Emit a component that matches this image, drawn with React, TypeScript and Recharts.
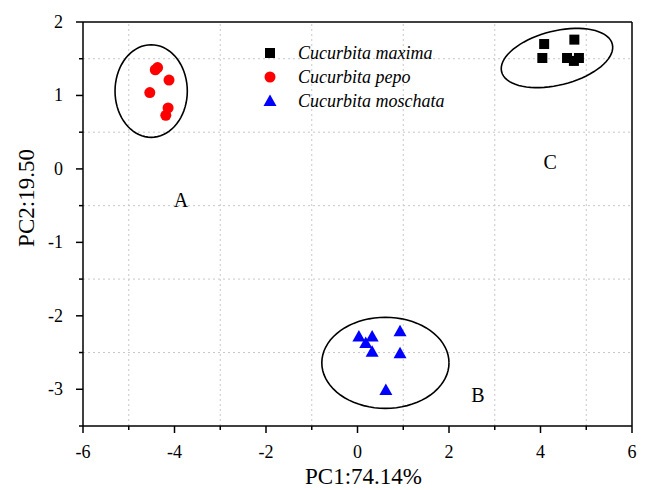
import React from 'react';
import { ScatterChart, Scatter, XAxis, YAxis, ReferenceLine } from 'recharts';

// PCA scores
const maximaPts = [
    { x: 4.08, y: 1.70 },
    { x: 4.74, y: 1.76 },
    { x: 4.04, y: 1.51 },
    { x: 4.58, y: 1.51 },
    { x: 4.73, y: 1.47 },
    { x: 4.84, y: 1.51 },
];
const pepoPts = [
    { x: -4.42, y: 1.35 },
    { x: -4.37, y: 1.38 },
    { x: -4.12, y: 1.21 },
    { x: -4.54, y: 1.04 },
    { x: -4.14, y: 0.83 },
    { x: -4.19, y: 0.73 },
];
const moschataPts = [
    { x: 0.03, y: -2.28 },
    { x: 0.32, y: -2.28 },
    { x: 0.18, y: -2.37 },
    { x: 0.32, y: -2.49 },
    { x: 0.93, y: -2.21 },
    { x: 0.93, y: -2.51 },
    { x: 0.62, y: -3.01 },
];

// group ellipses: centre + two semi-axis vectors (data units)
const ellipseA = { cx: -4.51, cy: 1.06, ax: 0.79, ay: 0, bx: 0, by: 0.63 };
const ellipseB = { cx: 0.61, cy: -2.64, ax: 1.39, ay: 0, bx: 0, by: 0.62 };
const ellipseC = { cx: 4.36, cy: 1.51, ax: 1.21, ay: 0.188, bx: 0.142, by: -0.357 };

const groupLabels = [
    { x: -3.86, y: -0.42, text: 'A' },
    { x: 2.63, y: -3.08, text: 'B' },
    { x: 4.21, y: 0.09, text: 'C' },
];

const xTicks = [-6, -5, -4, -3, -2, -1, 0, 1, 2, 3, 4, 5, 6];
const yTicks = [-3.5, -3, -2.5, -2, -1.5, -1, -0.5, 0, 0.5, 1, 1.5, 2];
const xGrid = [-5, -3, -1, 1, 3, 5];
const yGrid = [1.5, 0.5, -0.5, -1.5, -2.5];

const seriesNames = ['Cucurbita maxima', 'Cucurbita pepo', 'Cucurbita moschata'];

const FONT = '"Liberation Serif", "Times New Roman", serif';

function ellipsePoints(e: typeof ellipseA) {
    const pts = [];
    for (let i = 0; i <= 72; i++) {
        const t = (i / 72) * Math.PI * 2;
        pts.push({
            x: e.cx + Math.cos(t) * e.ax + Math.sin(t) * e.bx,
            y: e.cy + Math.cos(t) * e.ay + Math.sin(t) * e.by,
        });
    }
    return pts;
}

const SquareMark = (p: any) => <rect x={p.cx - 5} y={p.cy - 5} width={10} height={10} fill="#000" />;
const CircleMark = (p: any) => <circle cx={p.cx} cy={p.cy} r={5.5} fill="#ff0000" />;
const TriMark = (p: any) => (
    <path d={`M${p.cx},${p.cy - 6.5} L${p.cx + 6.5},${p.cy + 5} L${p.cx - 6.5},${p.cy + 5} Z`} fill="#0000ff" />
);
const NoMark = () => <g />;
const LabelMark = (p: any) => (
    <text x={p.cx} y={p.cy + 7} textAnchor="middle" fontSize={20} fontFamily={FONT} fill="#000">
        {p.payload.text}
    </text>
);

const XTick = (p: any) => {
    const v = p.payload.value;
    const major = v % 2 === 0;
    return (
        <g>
            <line x1={p.x} x2={p.x} y1={p.y} y2={p.y + (major ? 7 : 4)} stroke="#000" strokeWidth={1.5} />
            {major && (
                <text x={p.x} y={p.y + 32} textAnchor="middle" fontSize={18} fontFamily={FONT} fill="#000">
                    {v}
                </text>
            )}
        </g>
    );
};

const YTick = (p: any) => {
    const v = p.payload.value;
    const major = Number.isInteger(v);
    return (
        <g>
            <line x1={p.x} x2={p.x - (major ? 7 : 4)} y1={p.y} y2={p.y} stroke="#000" strokeWidth={1.5} />
            {major && (
                <text x={p.x - 20} y={p.y + 6} textAnchor="end" fontSize={18} fontFamily={FONT} fill="#000">
                    {v}
                </text>
            )}
        </g>
    );
};

const Legend = () => {
    const marks = [
        <rect x={3} y={7} width={10} height={10} fill="#000" />,
        <circle cx={8} cy={12} r={5.5} fill="#ff0000" />,
        <path d="M8,5.5 L14.5,17 L1.5,17 Z" fill="#0000ff" />,
    ];
    return (
        <div style={{ position: 'absolute', left: 262, top: 41, fontFamily: FONT, fontStyle: 'italic', fontSize: 18 }}>
            {seriesNames.map((name, i) => (
                <div key={name} style={{ display: 'flex', alignItems: 'center', height: 24 }}>
                    <svg width={16} height={24} style={{ marginRight: 20 }}>{marks[i]}</svg>
                    <span>{name}</span>
                </div>
            ))}
        </div>
    );
};

export default function App() {
    return (
        <div style={{ position: 'absolute', left: 0, top: 0, width: 646, height: 490, background: '#fff' }}>
            <ScatterChart width={646} height={490} margin={{ top: 22, right: 14, bottom: 0, left: 0 }}>
                <XAxis
                    type="number"
                    dataKey="x"
                    domain={[-6, 6]}
                    ticks={xTicks}
                    allowDataOverflow
                    height={64}
                    tickSize={0}
                    tickMargin={0}
                    tickLine={false}
                    tick={<XTick />}
                    axisLine={{ stroke: '#000', strokeWidth: 1.5 }}
                    interval={0}
                    label={(props: any) => {
                        const vb = props.viewBox;
                        return (
                            <text x={vb.x + vb.width / 2 + 6} y={vb.y + 58} textAnchor="middle" fontSize={23} fontFamily={FONT} fill="#000">
                                PC1:74.14%
                            </text>
                        );
                    }}
                />
                <YAxis
                    type="number"
                    dataKey="y"
                    domain={[-3.5, 2]}
                    ticks={yTicks}
                    allowDataOverflow
                    width={83}
                    tickSize={0}
                    tickMargin={0}
                    tickLine={false}
                    tick={<YTick />}
                    axisLine={{ stroke: '#000', strokeWidth: 1.5 }}
                    interval={0}
                    label={() => (
                        <text x={34} y={198} transform="rotate(-90 34 198)" textAnchor="middle" fontSize={23} fontFamily={FONT} fill="#000">
                            PC2:19.50
                        </text>
                    )}
                />
                {xGrid.map(v => (
                    <ReferenceLine key={`gx${v}`} x={v} stroke="#c8c8c8" strokeDasharray="2 3" />
                ))}
                {yGrid.map(v => (
                    <ReferenceLine key={`gy${v}`} y={v} stroke="#c8c8c8" strokeDasharray="2 3" />
                ))}
                <ReferenceLine x={6} stroke="#000" strokeWidth={1.5} />
                <ReferenceLine y={2} stroke="#000" strokeWidth={1.5} />
                {[ellipseA, ellipseB, ellipseC].map((e, i) => (
                    <Scatter
                        key={`ell${i}`}
                        data={ellipsePoints(e)}
                        line={{ stroke: '#000', strokeWidth: 1.6 }}
                        lineType="joint"
                        shape={<NoMark />}
                        isAnimationActive={false}
                    />
                ))}
                <Scatter name={seriesNames[0]} data={maximaPts} shape={<SquareMark />} isAnimationActive={false} />
                <Scatter name={seriesNames[1]} data={pepoPts} shape={<CircleMark />} isAnimationActive={false} />
                <Scatter name={seriesNames[2]} data={moschataPts} shape={<TriMark />} isAnimationActive={false} />
                <Scatter data={groupLabels} shape={<LabelMark />} isAnimationActive={false} />
            </ScatterChart>
            <Legend />
        </div>
    );
}
